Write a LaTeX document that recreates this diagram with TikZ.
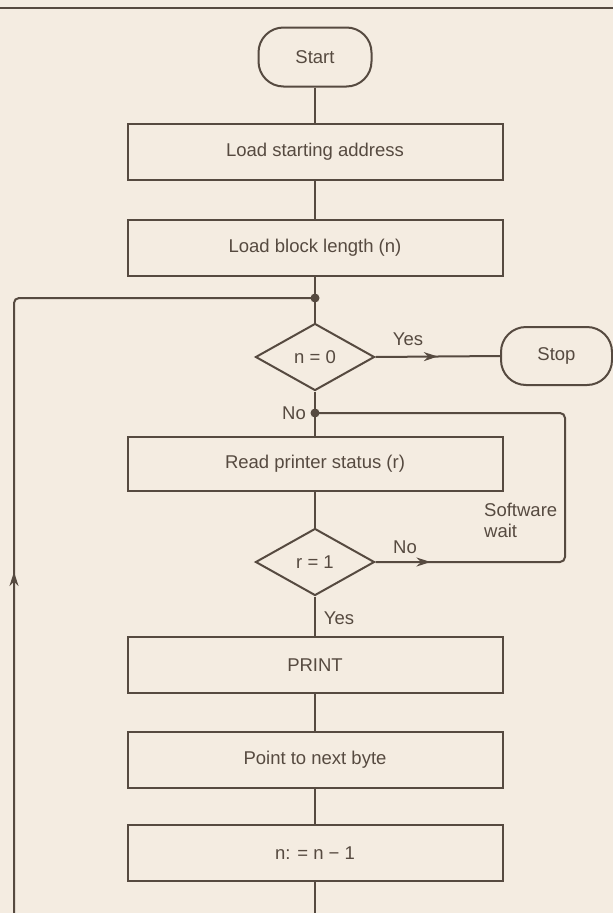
\documentclass[tikz,border=0pt]{standalone}
\usepackage{fontspec}
\setmainfont{Liberation Sans}
\usepackage{tikz}
\usetikzlibrary{shapes.geometric,arrows.meta,decorations.markings}
\definecolor{paper}{RGB}{244,236,225}
\definecolor{ink}{RGB}{86,74,64}

\begin{document}
\begin{tikzpicture}[x=1pt, y=-1pt,
font=\fontsize{18.5}{21}\selectfont,
term/.style={draw=ink, line width=2pt, rounded corners=25pt, text=ink,
minimum width=113pt, minimum height=59pt},
proc/.style={draw=ink, line width=2pt, text=ink,
minimum width=375pt, minimum height=56pt},
decision/.style={diamond, draw=ink, line width=2pt, text=ink, inner sep=0pt,
minimum width=119pt, minimum height=67pt},
flow/.style={draw=ink, line width=2pt},
midarrow/.style={postaction={decorate}, decoration={markings,
mark=at position #1 with {\arrow{Stealth[length=14pt,width=9pt]}}}},
joint/.style={circle, fill=ink, inner sep=0pt, minimum size=9pt},
lbl/.style={text=ink, inner sep=1pt}
]

\path[use as bounding box, fill=paper] (0,0) rectangle (613,913);
\clip (0,0) rectangle (613,913);
\draw[flow] (0,8) -- (613,8);

\node[term] (start) at (315,57) {Start};
\node[proc] (lsa) at (315,152) {Load starting address};
\node[proc] (lbl) at (315,248) {Load block length (n)};
\node[joint] (j1) at (315,298) {};
\node[decision] (nzero) at (315,357) {n = 0};
\node[term, minimum width=111pt, minimum height=58pt] (stop) at (556.5,356) {Stop};
\node[joint] (j2) at (315,413) {};
\node[proc, minimum height=54pt] (rps) at (315,464) {Read printer status (r)};
\node[decision] (rone) at (315,562) {r = 1};
\node[proc] (prt) at (315,665) {PRINT};
\node[proc] (nxt) at (315,760) {Point to next byte};
\node[proc] (dec) at (315,853) {n: = n − 1};

\node[lbl] (yes1) at (408,339) {Yes};
\node[lbl, anchor=east] (no1) at (307,413) {No};
\node[lbl, align=left, anchor=west] (swait) at (483,520) {Software\\wait};
\node[lbl] (no2) at (405,547) {No};
\node[lbl] (yes2) at (339,618) {Yes};

\coordinate (swc) at (565,413);
\coordinate (lpbot) at (14,926);

\draw[flow] (start) -- (lsa);
\draw[flow] (lsa) -- (lbl);
\draw[flow] (lbl) -- (j1.center) -- (nzero);
\draw[flow, midarrow=0.5] (nzero.east) -- (stop.west);
\draw[flow] (nzero) -- (j2.center) -- (rps);
\draw[flow] (rps) -- (rone);
\draw[flow, rounded corners=5pt, midarrow=55pt] (rone.east) -| (swc) -- (j2.center);
\draw[flow] (rone) -- (prt);
\draw[flow] (prt) -- (nxt);
\draw[flow] (nxt) -- (dec);

% loop back to the test on n
\draw[flow] (dec) |- (lpbot);
\draw[flow, rounded corners=5pt, midarrow=354pt] (lpbot) |- (j1.center);

\end{tikzpicture}
\end{document}
